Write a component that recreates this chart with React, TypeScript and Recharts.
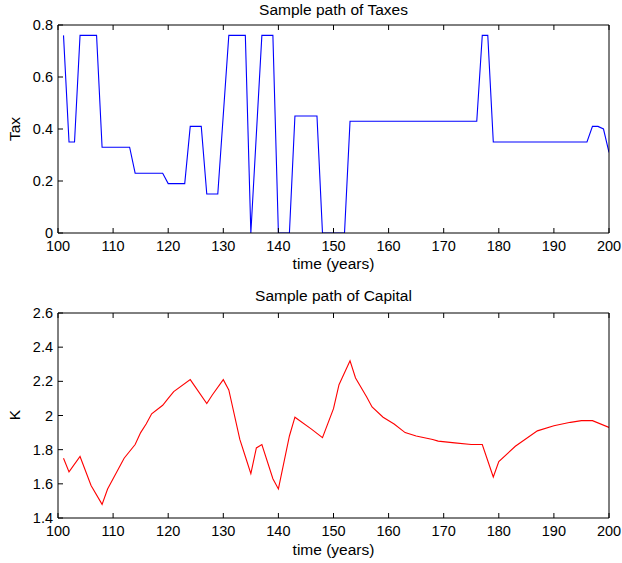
import React from 'react';
import { LineChart, Line, XAxis, YAxis } from 'recharts';

// tax path, corner points only (years, value)
const taxYears = [101, 102, 103, 104, 107, 108, 113, 114, 119, 120, 123, 124, 126, 127, 129, 131, 134, 135, 137, 139, 140, 142, 143, 147, 148, 152, 153, 176, 177, 178, 179, 196, 197, 198, 199, 200];
const taxValues = [0.76, 0.35, 0.35, 0.76, 0.76, 0.33, 0.33, 0.23, 0.23, 0.19, 0.19, 0.41, 0.41, 0.15, 0.15, 0.76, 0.76, 0, 0.76, 0.76, 0, 0, 0.45, 0.45, 0, 0, 0.43, 0.43, 0.76, 0.76, 0.35, 0.35, 0.41, 0.41, 0.40, 0.31];

const capYears = [101, 102, 104, 106, 108, 109, 112, 114, 115, 116, 117, 119, 120, 121, 124, 127, 128, 130, 131, 133, 134, 135, 136, 137, 139, 140, 142, 143, 146, 148, 150, 151, 153, 154, 156, 157, 159, 161, 163, 165, 168, 169, 172, 175, 177, 179, 180, 183, 187, 190, 193, 195, 197, 200];
const capValues = [1.75, 1.67, 1.76, 1.59, 1.48, 1.57, 1.75, 1.83, 1.9, 1.95, 2.01, 2.06, 2.1, 2.14, 2.21, 2.07, 2.12, 2.21, 2.15, 1.86, 1.76, 1.66, 1.81, 1.83, 1.63, 1.57, 1.88, 1.99, 1.92, 1.87, 2.04, 2.18, 2.32, 2.22, 2.11, 2.05, 1.99, 1.95, 1.9, 1.88, 1.86, 1.85, 1.84, 1.83, 1.83, 1.64, 1.73, 1.82, 1.91, 1.94, 1.96, 1.97, 1.97, 1.93];

const yearTicks = [100, 110, 120, 130, 140, 150, 160, 170, 180, 190, 200];
const taxTicks = [0, 0.2, 0.4, 0.6, 0.8];
const capTicks = [1.4, 1.6, 1.8, 2, 2.2, 2.4, 2.6];

const taxData = taxYears.map((t, i) => ({ t, v: taxValues[i] }));
const capData = capYears.map((t, i) => ({ t, v: capValues[i] }));

const font = '"Liberation Sans", Arial, sans-serif';
const tickStyle = { fontSize: 14.5, fill: '#000', fontFamily: font };
const blank = () => '';

function Panel({ data, color, domain, yTicks, top, height, mTop, mBottom }: any) {
  return (
    <div style={{ position: 'absolute', left: 0, top, width: 622, height }}>
      <LineChart width={622} height={height} data={data} margin={{ top: mTop, right: 8, bottom: mBottom, left: 18 }}>
        <XAxis dataKey="t" type="number" domain={[100, 200]} ticks={yearTicks} interval={0} height={30}
          tickSize={-5} tickMargin={13} tick={tickStyle} stroke="#000" allowDataOverflow />
        <XAxis xAxisId="top" orientation="top" dataKey="t" type="number" domain={[100, 200]} ticks={yearTicks}
          height={5} tickSize={-5} tickFormatter={blank} stroke="#000" />
        <YAxis type="number" domain={domain} ticks={yTicks} interval={0} width={40} tickSize={-5} tickMargin={10}
          tick={tickStyle} stroke="#000" tickFormatter={(v: number) => String(Math.round(v * 10) / 10)} allowDataOverflow />
        <YAxis yAxisId="right" orientation="right" type="number" domain={domain} ticks={yTicks} width={5}
          tickSize={-5} tickFormatter={blank} stroke="#000" />
        <Line dataKey="v" type="linear" stroke={color} strokeWidth={1.1} dot={false} isAnimationActive={false} />
      </LineChart>
    </div>
  );
}

const txt = (s: string, top: number, extra: any = {}) => (
  <div style={{ position: 'absolute', left: 58, width: 551, top, height: 20, lineHeight: '20px', textAlign: 'center',
    fontFamily: font, fontSize: 15.5, color: '#000', ...extra }}>{s}</div>
);

const ylab = (s: string, cy: number) => (
  <div style={{ position: 'absolute', left: 15 - 40, top: cy - 10, width: 80, height: 20, lineHeight: '20px', textAlign: 'center',
    fontFamily: font, fontSize: 15.5, color: '#000', transform: 'rotate(-90deg)' }}>{s}</div>
);

export default function App() {
  return (
    <div style={{ position: 'absolute', left: 0, top: 0, width: 622, height: 563, background: '#fff' }}>
      <Panel data={taxData} color="#0000ff" domain={[0, 0.8]} yTicks={taxTicks} top={0} height={280} mTop={20} mBottom={17} />
      <Panel data={capData} color="#ff0000" domain={[1.4, 2.6]} yTicks={capTicks} top={280} height={283} mTop={28} mBottom={15} />
      {txt('Sample path of Taxes', 0)}
      {txt('time (years)', 254)}
      {txt('Sample path of Capital', 286)}
      {txt('time (years)', 540)}
      {ylab('Tax', 129)}
      {ylab('K', 415)}
    </div>
  );
}
